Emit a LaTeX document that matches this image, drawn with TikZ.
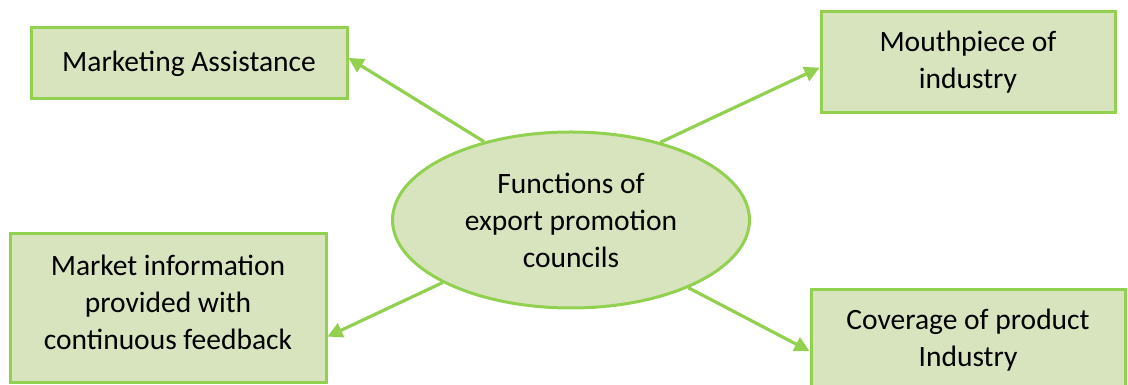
\documentclass[tikz,border=0pt]{standalone}
\usepackage{fontspec}
\setmainfont{Carlito}
\usetikzlibrary{shapes.geometric,arrows.meta}
\definecolor{lineg}{HTML}{92D050}
\definecolor{fillg}{HTML}{D7E4BD}
\tikzset{
  box/.style={draw=lineg, fill=fillg, line width=3pt, align=center, inner sep=0pt,
    font=\fontsize{29.5}{37}\selectfont},
  oval/.style={ellipse, draw=lineg, fill=fillg, line width=3pt, align=center, inner sep=0pt,
    font=\fontsize{29.5}{37}\selectfont, minimum width=357pt, minimum height=176pt},
  conn/.style={draw=lineg, line width=3.2pt, -{Triangle[length=15pt,width=15pt]}}
}
\begin{document}
\begin{tikzpicture}[x=1pt,y=1pt]
\useasboundingbox (0,0) rectangle (1128,385);
\clip (0,0) rectangle (1128,385);
\node[box, minimum width=316pt, minimum height=71pt] (MA) at (189,321.5) {Marketing Assistance};
\node[box, minimum width=294pt, minimum height=101pt] (MP) at (968,322.5) {Mouthpiece of\\industry};
\node[box, minimum width=316pt, minimum height=149pt] (MI) at (168,76.5) {Market information\\provided with\\continuous feedback\\[-24pt]};
\node[box, minimum width=314pt, minimum height=100pt] (CV) at (968,45) {Coverage of product\\Industry};
\node[oval] (E) at (571,165) {Functions of\\export promotion\\councils};
\draw[conn] (E.138) -- (MA.2);
\draw[conn] (E.41.3) -- (MP.182);
\draw[conn] (E.206.6) -- (MI.350.5);
\draw[conn] (E.330.5) -- (CV.184.7);
\end{tikzpicture}
\end{document}
